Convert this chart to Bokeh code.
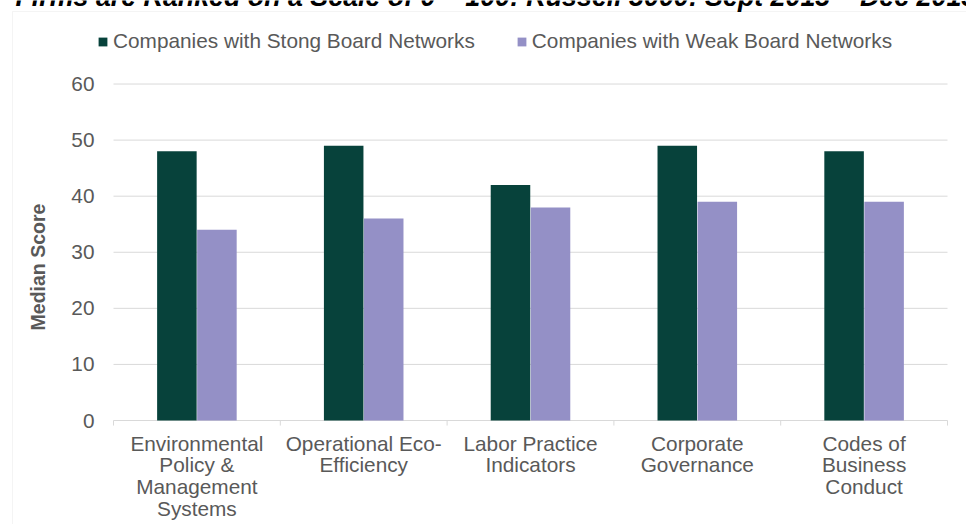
from bokeh.plotting import figure
from bokeh.models import (Range1d, FixedTicker, Label, BoxAnnotation, ColumnDataSource,
                          LinearAxis)
from bokeh.transform import dodge
from bokeh.embed import file_html
from bokeh.resources import INLINE
import math

categories = ["Environmental\nPolicy &\nManagement\nSystems",
              "Operational Eco-\nEfficiency",
              "Labor Practice\nIndicators",
              "Corporate\nGovernance",
              "Codes of\nBusiness\nConduct"]
strong = [48, 49, 42, 49, 48]
weak = [34, 36, 38, 39, 39]
series_names = ["Companies with Stong Board Networks", "Companies with Weak Board Networks"]
y_ticks = [0, 10, 20, 30, 40, 50, 60]
title_text = "Firms are Ranked on a Scale of 0 \u2013 100: Russell 3000: Sept 2013 \u2013 Dec 2015"
y_label = "Median Score"

DARK = "#07423b"
PURPLE = "#9490c6"
GREY_TXT = "#595959"
GRID = "#d9d9d9"
FONT = "Liberation Sans"
FS = "20.8px"

W, H = 966, 524
n = len(categories)
idx = list(range(n))
source = ColumnDataSource(data=dict(idx=idx, strong=strong, weak=weak))

# frame covers the whole canvas; category i is centred on x = i
px_per_cat = 166.8
px_per_unit_y = 5.608
left_edge = -0.5 - 113 / px_per_cat
right_edge = (n - 0.5) + (W - 947) / px_per_cat
top_edge = 420 / px_per_unit_y
bottom_edge = -(H - 420) / px_per_unit_y

p = figure(width=W, height=H, x_range=Range1d(left_edge, right_edge),
           y_range=Range1d(bottom_edge, top_edge), output_backend="svg",
           toolbar_location=None, x_axis_type=None, y_axis_type=None,
           min_border=0, min_border_left=0, min_border_right=0,
           min_border_top=0, min_border_bottom=0)
p.outline_line_color = None
p.xgrid.visible = False
p.ygrid.visible = False

# gridlines across the category span
p.segment(x0=[-0.5] * len(y_ticks), x1=[n - 0.5] * len(y_ticks), y0=y_ticks, y1=y_ticks,
          line_color=GRID, line_width=1)
# category boundary ticks below the zero line
bounds = [i - 0.5 for i in range(n + 1)]
p.segment(x0=bounds, x1=bounds, y0=[0] * len(bounds), y1=[-0.9] * len(bounds),
          line_color=GRID, line_width=1)

p.vbar(x=dodge("idx", -0.12), top="strong", width=0.237, source=source,
       fill_color=DARK, line_color=None, legend_label=series_names[0])
p.vbar(x=dodge("idx", 0.12), top="weak", width=0.237, source=source,
       fill_color=PURPLE, line_color=None, legend_label=series_names[1])

yaxis = LinearAxis(ticker=FixedTicker(ticks=y_ticks), fixed_location=-0.5)
yaxis.axis_line_color = None
yaxis.major_tick_line_color = None
yaxis.minor_tick_line_color = None
yaxis.major_label_standoff = 13
yaxis.major_label_text_font = FONT
yaxis.major_label_text_font_size = FS
yaxis.major_label_text_color = GREY_TXT
p.add_layout(yaxis, "left")

xaxis = LinearAxis(ticker=FixedTicker(ticks=idx), fixed_location=0,
                   major_label_overrides={i: c for i, c in zip(idx, categories)})
xaxis.axis_line_color = None
xaxis.major_tick_line_color = None
xaxis.minor_tick_line_color = None
xaxis.major_label_standoff = 5
xaxis.major_label_text_font = FONT
xaxis.major_label_text_font_size = FS
xaxis.major_label_text_color = GREY_TXT
xaxis.major_label_text_line_height = 0.95
p.add_layout(xaxis, "below")

leg = p.legend[0]
leg.orientation = "horizontal"
leg.location = (97, 471)
leg.border_line_color = None
leg.background_fill_alpha = 0
leg.padding = 0
leg.margin = 0
leg.spacing = 41
leg.label_standoff = 5
leg.glyph_width = 11
leg.glyph_height = 11
leg.label_height = 21
leg.label_text_font = FONT
leg.label_text_font_size = FS
leg.label_text_color = GREY_TXT

border = BoxAnnotation(left=12, right=3000, top=H - 11, bottom=-3000,
                       left_units="screen", right_units="screen",
                       top_units="screen", bottom_units="screen",
                       fill_alpha=0, line_color=GRID, line_width=1, level="underlay")
p.add_layout(border)

p.add_layout(Label(x=15, y=H + 4, x_units="screen", y_units="screen", text=title_text,
                   text_font=FONT, text_font_size="26.8px", text_font_style="bold italic",
                   text_color="black", text_baseline="alphabetic", text_align="left"))

p.add_layout(Label(x=37, y=H - 266.5, x_units="screen", y_units="screen", text=y_label,
                   angle=math.pi / 2, text_font=FONT, text_font_size="19.5px",
                   text_font_style="bold", text_color=GREY_TXT,
                   text_align="center", text_baseline="middle"))

open("out.html", "w").write(file_html(p, INLINE))
